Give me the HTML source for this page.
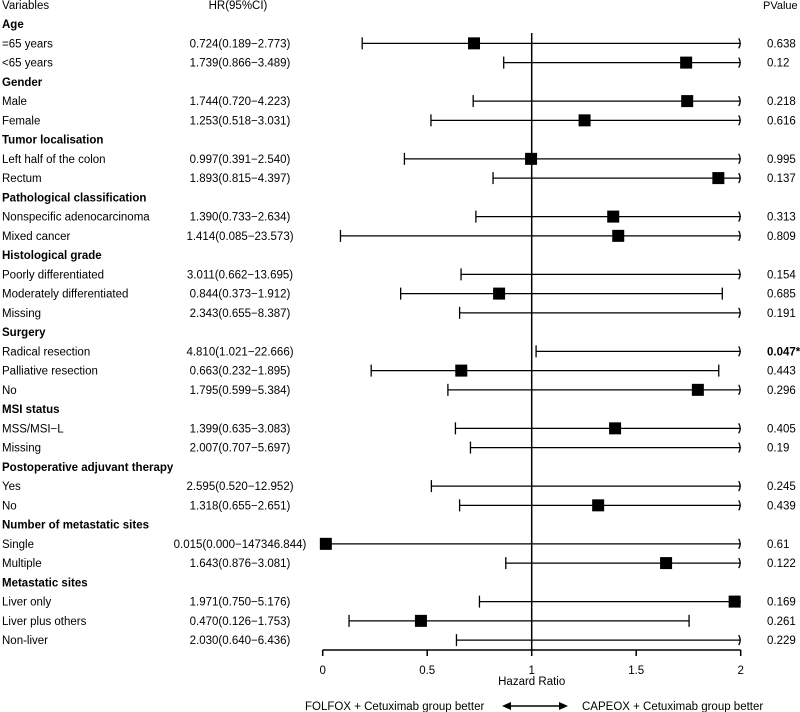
<!DOCTYPE html>
<html><head><meta charset="utf-8"><style>
body{margin:0;background:#fff}
svg{display:block;font-family:"Liberation Sans",Arial,sans-serif}
</style></head><body>
<svg id="c" width="800" height="712" xmlns="http://www.w3.org/2000/svg">
<text x="2" y="9" font-size="11.5">Variables</text>
<text x="238" y="9" font-size="11.5" text-anchor="middle">HR(95%CI)</text>
<text x="763" y="9" font-size="11">PValue</text>
<g id="rows"></g>
<g id="axis"></g>
<text x="531.7" y="685" font-size="11.5" text-anchor="middle">Hazard Ratio</text>
<text x="305" y="710" font-size="11.5">FOLFOX + Cetuximab group better</text>
<g>
<line x1="508" y1="706" x2="562" y2="706" stroke="#000" stroke-width="1.5"/>
<polygon points="502,706 511,702 511,710" fill="#000"/>
<polygon points="568,706 559,702 559,710" fill="#000"/>
</g>
<text x="582" y="710" font-size="11.5">CAPEOX + Cetuximab group better</text>
</svg>
<script>
const labels=["Age","=65 years","<65 years","Gender","Male","Female","Tumor localisation","Left half of the colon","Rectum","Pathological classification","Nonspecific adenocarcinoma","Mixed cancer","Histological grade","Poorly differentiated","Moderately differentiated","Missing","Surgery","Radical resection","Palliative resection","No","MSI status","MSS/MSI−L","Missing","Postoperative adjuvant therapy","Yes","No","Number of metastatic sites","Single","Multiple","Metastatic sites","Liver only","Liver plus others","Non-liver"];
const hr=[null,0.724,1.739,null,1.744,1.253,null,0.997,1.893,null,1.390,1.414,null,3.011,0.844,2.343,null,4.810,0.663,1.795,null,1.399,2.007,null,2.595,1.318,null,0.015,1.643,null,1.971,0.470,2.030];
const lower=[null,0.189,0.866,null,0.720,0.518,null,0.391,0.815,null,0.733,0.085,null,0.662,0.373,0.655,null,1.021,0.232,0.599,null,0.635,0.707,null,0.520,0.655,null,0.000,0.876,null,0.750,0.126,0.640];
const upper=[null,2.773,3.489,null,4.223,3.031,null,2.540,4.397,null,2.634,23.573,null,13.695,1.912,8.387,null,22.666,1.895,5.384,null,3.083,5.697,null,12.952,2.651,null,147346.844,3.081,null,5.176,1.753,6.436];
const pvals=["","0.638","0.12","","0.218","0.616","","0.995","0.137","","0.313","0.809","","0.154","0.685","0.191","","0.047*","0.443","0.296","","0.405","0.19","","0.245","0.439","","0.61","0.122","","0.169","0.261","0.229"];
const ticks=[0,0.5,1,1.5,2];
const NS="http://www.w3.org/2000/svg";
const x0=322.7,x1=740.7,dmin=0,dmax=2;
const X=v=>x0+(Math.min(Math.max(v,dmin),dmax)-dmin)/(dmax-dmin)*(x1-x0);
const Y=i=>24.1+i*19.25;
function mk(tag,attrs,parent){const e=document.createElementNS(NS,tag);for(const k in attrs)e.setAttribute(k,attrs[k]);parent.appendChild(e);return e;}
const rows=document.getElementById('rows'),axis=document.getElementById('axis');
const fmt=v=>v.toFixed(3);
labels.forEach((lab,i)=>{
  const y=Y(i);const head=hr[i]===null;
  const t=mk('text',{x:2,y:y+4,'font-size':11.5,'font-weight':head?'bold':'normal'},rows);
  t.textContent=lab;
  
  
  if(head)return;
  const h=mk('text',{x:240,y:y+4,'font-size':11.5,'text-anchor':'middle'},rows);
  h.textContent=fmt(hr[i])+"("+fmt(lower[i])+"−"+fmt(upper[i])+")";
  
  
  const p=mk('text',{x:767,y:y+4,'font-size':11.5,'font-weight':pvals[i].includes('*')?'bold':'normal'},rows);
  p.textContent=pvals[i];
  
  
  const g=mk('g',{},rows);
  
  
  const xl=X(lower[i]),xu=X(upper[i]);
  mk('line',{x1:xl,y1:y,x2:xu,y2:y,stroke:'#000','stroke-width':1.3},g);
  mk('line',{x1:xl,y1:y-6,x2:xl,y2:y+6,stroke:'#000','stroke-width':1.3},g);
  if(upper[i]>dmax){mk('path',{d:`M${xu-2},${y-5} Q${xu+1},${y} ${xu-2},${y+5}`,stroke:'#000','stroke-width':1.3,fill:'none'},g);}
  else mk('line',{x1:xu,y1:y-6,x2:xu,y2:y+6,stroke:'#000','stroke-width':1.3},g);
  if(hr[i]<=dmax){const m=mk('rect',{x:X(hr[i])-6,y:y-6,width:12,height:12,fill:'#000'},g);
    
    }
});
const ref=mk('line',{x1:X(1),y1:33,x2:X(1),y2:650,stroke:'#000','stroke-width':1.5},axis);


const al=mk('line',{x1:x0,y1:650,x2:x1,y2:650,stroke:'#000','stroke-width':1.5},axis);


ticks.forEach(v=>{
  mk('line',{x1:X(v),y1:650,x2:X(v),y2:656,stroke:'#000','stroke-width':1.5},axis);
  const t=mk('text',{x:X(v),y:674,'font-size':11.5,'text-anchor':'middle'},axis);
  t.textContent=String(v);
  
  
});
</script>
</body></html>
